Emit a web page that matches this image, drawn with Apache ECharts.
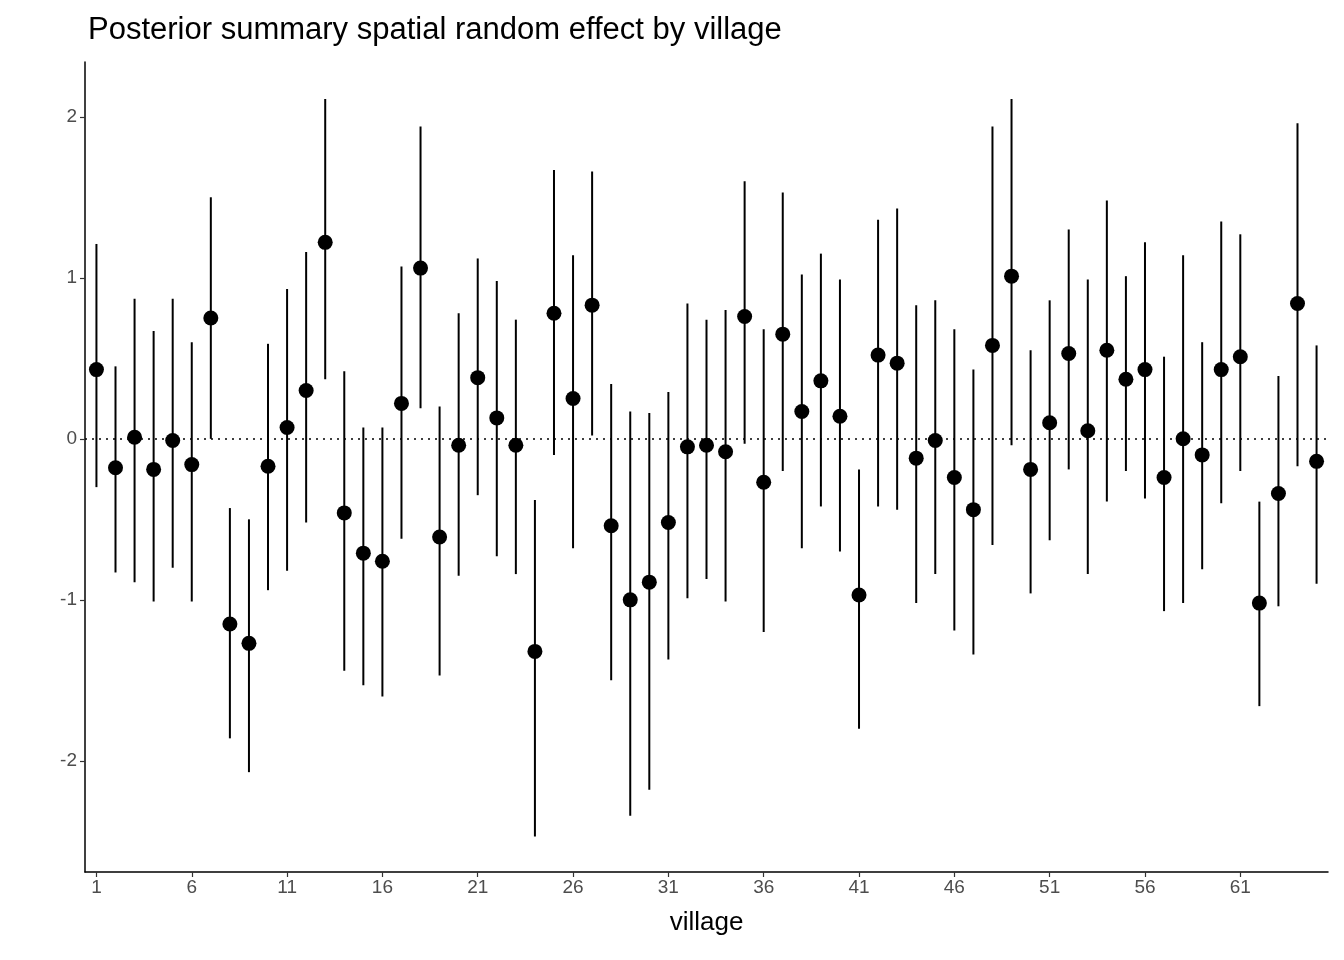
<!DOCTYPE html>
<html><head><meta charset="utf-8">
<script src="https://cdn.jsdelivr.net/npm/echarts@6/dist/echarts.min.js"></script>
<style>body{margin:0}#c{width:1344px;height:960px}</style></head>
<body><div id="c"></div>
<script>
// posterior mean and 95% interval per village
var means = [0.43,-0.18,0.01,-0.19,-0.01,-0.16,0.75,-1.15,-1.27,-0.17,0.07,0.30,1.22,-0.46,-0.71,-0.76,0.22,1.06,-0.61,-0.04,0.38,0.13,-0.04,-1.32,0.78,0.25,0.83,-0.54,-1.00,-0.89,-0.52,-0.05,-0.04,-0.08,0.76,-0.27,0.65,0.17,0.36,0.14,-0.97,0.52,0.47,-0.12,-0.01,-0.24,-0.44,0.58,1.01,-0.19,0.10,0.53,0.05,0.55,0.37,0.43,-0.24,0.0,-0.10,0.43,0.51,-1.02,-0.34,0.84,-0.14];
var upper = [1.21,0.45,0.87,0.67,0.87,0.60,1.50,-0.43,-0.50,0.59,0.93,1.16,2.11,0.42,0.07,0.07,1.07,1.94,0.20,0.78,1.12,0.98,0.74,-0.38,1.67,1.14,1.66,0.34,0.17,0.16,0.29,0.84,0.74,0.80,1.60,0.68,1.53,1.02,1.15,0.99,-0.19,1.36,1.43,0.83,0.86,0.68,0.43,1.94,2.11,0.55,0.86,1.30,0.99,1.48,1.01,1.22,0.51,1.14,0.60,1.35,1.27,-0.39,0.39,1.96,0.58];
var lower = [-0.30,-0.83,-0.89,-1.01,-0.80,-1.01,0.0,-1.86,-2.07,-0.94,-0.82,-0.52,0.37,-1.44,-1.53,-1.60,-0.62,0.19,-1.47,-0.85,-0.35,-0.73,-0.84,-2.47,-0.10,-0.68,0.02,-1.50,-2.34,-2.18,-1.37,-0.99,-0.87,-1.01,-0.03,-1.20,-0.20,-0.68,-0.42,-0.70,-1.80,-0.42,-0.44,-1.02,-0.84,-1.19,-1.34,-0.66,-0.04,-0.96,-0.63,-0.19,-0.84,-0.39,-0.20,-0.37,-1.07,-1.02,-0.81,-0.40,-0.20,-1.66,-1.04,-0.17,-0.90];
var xTicks = [1,6,11,16,21,26,31,36,41,46,51,56,61];
var yTicks = [-2,-1,0,1,2];

var barData = means.map(function(m,i){ return [i+1, lower[i], upper[i]]; });
var pointData = means.map(function(m,i){ return [i+1, m]; });

var chart = echarts.init(document.getElementById('c'));
chart.setOption({
  animation:false,
  title:{text:'Posterior summary spatial random effect by village',left:83,top:10,
    textStyle:{fontFamily:'Liberation Sans',fontWeight:'normal',fontSize:31,color:'#000'}},
  grid:{left:85,right:16,top:62,bottom:88},
  xAxis:{type:'value',min:0.4,max:65.6,name:'village',nameLocation:'middle',nameGap:38,
    nameTextStyle:{fontFamily:'Liberation Sans',fontSize:26,color:'#000'},
    splitLine:{show:false},
    axisLine:{onZero:false,lineStyle:{color:'#000',width:1.5}},
    axisTick:{customValues:xTicks,length:5,lineStyle:{color:'#333',width:1.2}},
    axisLabel:{customValues:xTicks,fontFamily:'Liberation Sans',fontSize:19,color:'#4d4d4d',margin:6}},
  yAxis:{type:'value',min:-2.69,max:2.34,splitLine:{show:false},
    axisLine:{show:true,onZero:false,lineStyle:{color:'#000',width:1.5}},
    axisTick:{show:true,customValues:yTicks,length:5,lineStyle:{color:'#333',width:1.2}},
    axisLabel:{customValues:yTicks,fontFamily:'Liberation Sans',fontSize:19,color:'#4d4d4d',margin:8}},
  series:[
    {type:'custom',data:barData,encode:{x:0,y:[1,2]},
      renderItem:function(params,api){
        var a=api.coord([api.value(0),api.value(1)]), b=api.coord([api.value(0),api.value(2)]);
        return {type:'line',shape:{x1:a[0],y1:a[1],x2:b[0],y2:b[1]},style:{stroke:'#000',lineWidth:2}};
      },
      markLine:{silent:true,symbol:'none',label:{show:false},
        lineStyle:{color:'#000',type:[2,5],width:1.6},data:[{yAxis:0}]}},
    {type:'scatter',data:pointData,symbolSize:15,itemStyle:{color:'#000',opacity:1}}
  ]
});
</script></body></html>
